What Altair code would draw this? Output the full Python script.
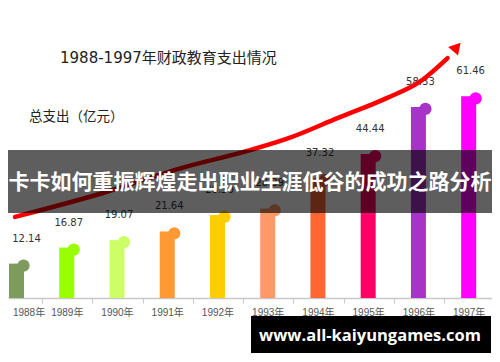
import altair as alt
import pandas as pd

# ---- data ----
years = [1988, 1989, 1990, 1991, 1992, 1993, 1994, 1995, 1996, 1997]
values = [12.14, 16.87, 19.07, 21.64, 26.50, 28.39, 37.32, 44.44, 58.33, 61.46]
bar_colors = ["#7d9b5c", "#99ff00", "#ccff66", "#ff9933", "#ffcc00",
              "#ff9966", "#ff6633", "#ff0066", "#a733c8", "#ff00ff"]

# decorative growth arrow, in (year, value) units
arrow_x = [1987.97, 1989.72, 1991.28, 1992.65, 1993.43, 1994.40, 1995.38, 1996.02, 1996.58]
arrow_y = [25.9, 32.95, 40.3, 45.6, 49.2, 55.1, 61.0, 65.7, 72.75]
head_x = [1996.74]
head_y = [75.6]

title_text = "1988-1997年财政教育支出情况"
unit_text = "总支出（亿元）"
banner_text = "卡卡如何重振辉煌走出职业生涯低谷的成功之路分析"
watermark_text = "www.all-kaiyungames.com"

X_DOMAIN = [1987.93, 1997.365]
Y_DOMAIN = [2, 87.5]
W, H = 484, 290
HALF_STEP = W / (X_DOMAIN[1] - X_DOMAIN[0]) / 2

df = pd.DataFrame({
    "year": years,
    "value": values,
    "color": bar_colors,
    "label": [f"{v:.2f}" for v in values],
})
arrow_df = pd.DataFrame({"year": arrow_x, "value": arrow_y})
head_df = pd.DataFrame({"year": head_x, "value": head_y})

xaxis = alt.Axis(
    values=years, tickOffset=HALF_STEP,
    labelOffset={"condition": {"test": f"datum.value == {years[0]}", "value": -HALF_STEP + 12},
                 "value": -HALF_STEP},
    labelExpr="datum.value + '年'", grid=False, title=None,
    domainColor="#c8c8c8", domainWidth=1.5, tickColor="#c8c8c8", tickSize=5,
    labelColor="#555555", labelFont="Liberation Sans, Noto Sans CJK SC",
    labelFontSize=10, labelPadding=4,
)
xs = alt.Scale(domain=X_DOMAIN, nice=False, zero=False)
ys = alt.Scale(domain=Y_DOMAIN, nice=False, zero=False)
X = alt.X("year:Q", scale=xs, axis=xaxis)
Y = alt.Y("value:Q", scale=ys, axis=None)

base = alt.Chart(df)
bars = base.mark_bar(size=15).encode(
    x=X, y=Y, y2=alt.datum(Y_DOMAIN[0]), color=alt.Color("color:N", scale=None))
dots = base.mark_circle(size=150, opacity=1, xOffset=7, yOffset=2).encode(
    x=X, y=Y, color=alt.Color("color:N", scale=None))
vals = base.transform_filter(f"datum.year > {years[0]}").mark_text(
    dy=-25, dx=2, fontSize=10, font="DejaVu Sans", color="#333333").encode(
    x=X, y=Y, text="label:N")
vals_first = base.transform_filter(f"datum.year == {years[0]}").mark_text(
    dy=-25, dx=10, fontSize=10, font="DejaVu Sans", color="#333333").encode(
    x=X, y=Y, text="label:N")

arrow = alt.Chart(arrow_df).mark_line(
    color="#ff0000", strokeWidth=4.5, interpolate="monotone", strokeCap="round").encode(x=X, y=Y)
head = alt.Chart(head_df).mark_point(
    shape="triangle", filled=True, color="#ff0000", size=170, angle=41, opacity=1).encode(x=X, y=Y)

one = pd.DataFrame({"t": [0]})
title = alt.Chart(pd.DataFrame({"t": [title_text]})).mark_text(
    align="left", baseline="middle", fontSize=15, color="#222222",
    font="DejaVu Sans, Noto Sans CJK SC").encode(
    x=alt.value(52), y=alt.value(50), text="t:N")
unit = alt.Chart(pd.DataFrame({"t": [unit_text]})).mark_text(
    align="left", baseline="middle", fontSize=13.5, color="#222222",
    font="Noto Sans CJK SC").encode(
    x=alt.value(21), y=alt.value(109), text="t:N")

banner = alt.Chart(one).mark_rect(color="#000000", opacity=0.63).encode(
    x=alt.value(0), x2=alt.value(484), y=alt.value(142), y2=alt.value(205))
banner_t = alt.Chart(pd.DataFrame({"t": [banner_text]})).mark_text(
    align="center", baseline="middle", fontSize=21, fontWeight="bold", color="white",
    font="Noto Sans CJK SC").encode(
    x=alt.value(242), y=alt.value(175), text="t:N")

wm = alt.Chart(one).mark_rect(color="#000000").encode(
    x=alt.value(243), x2=alt.value(483), y=alt.value(308), y2=alt.value(345))
wm_t = alt.Chart(pd.DataFrame({"t": [watermark_text]})).mark_text(
    align="center", baseline="middle", fontSize=16.5, fontWeight="bold", color="white",
    font="Open Sans").encode(
    x=alt.value(362), y=alt.value(328), text="t:N")

chart = alt.layer(
    bars, dots, vals, vals_first, arrow, head, title, unit, banner, banner_t, wm, wm_t
).properties(
    width=W, height=H,
    padding={"left": 0, "top": 0, "right": 0, "bottom": 56},
    autosize=alt.AutoSizeParams(type="none"),
    background="white",
).configure_view(stroke=None)

chart.save("out.html", embed_options={"renderer": "svg", "actions": False})
